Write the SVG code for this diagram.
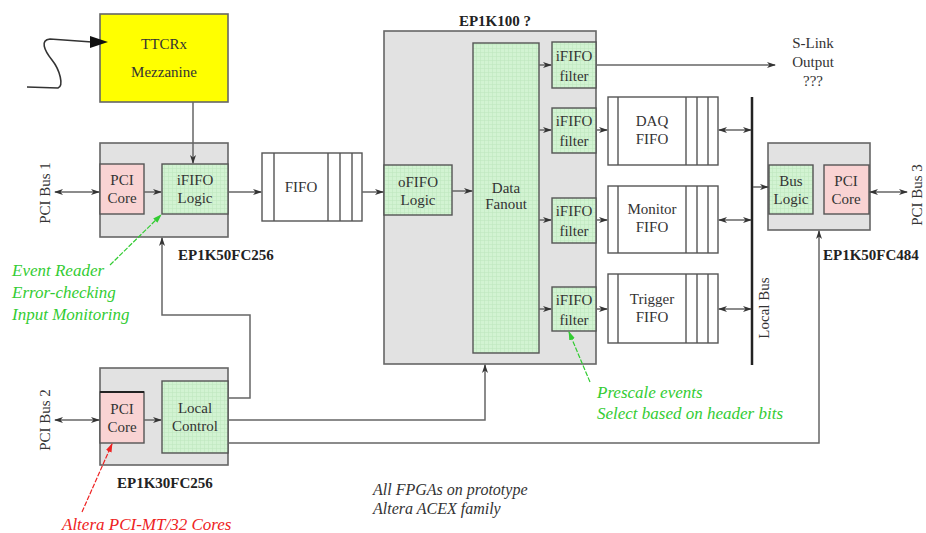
<svg xmlns="http://www.w3.org/2000/svg" width="926" height="533" viewBox="0 0 926 533">
<style>
text{font-family:"Liberation Serif","DejaVu Serif","Times New Roman",serif;fill:#333}
.lbl{font-size:15px;text-anchor:middle}
.bold{font-size:15px;font-weight:bold;fill:#222}
.note{font-size:17px;font-style:italic}
.small{font-size:16px}
.chip{fill:#e2e2e2;stroke:#666;stroke-width:1.6}
.green{fill:url(#grid);stroke:#555;stroke-width:1.4}
.pink{fill:#f9d3d3;stroke:#555;stroke-width:1.4}
.fifo{fill:#fff;stroke:#555;stroke-width:1.4}
.ln{fill:none;stroke:#666;stroke-width:1.5}
.arr{marker-end:url(#ah)}
.dbl{marker-start:url(#ahs);marker-end:url(#ah)}
</style>
<defs>
<pattern id="grid" width="4" height="4" patternUnits="userSpaceOnUse">
<rect width="4" height="4" fill="#d2f3d2"/>
<path d="M0,0.5H4M0.5,0V4" stroke="#bfe8bf" stroke-width="0.6"/>
</pattern>
<marker id="ah" markerWidth="9" markerHeight="7" refX="8" refY="3.5" orient="auto" markerUnits="userSpaceOnUse">
<path d="M0,0.5 L9,3.5 L0,6.5 L2.5,3.5 z" fill="#333"/>
</marker>
<marker id="ahs" markerWidth="9" markerHeight="7" refX="1" refY="3.5" orient="auto" markerUnits="userSpaceOnUse">
<path d="M9,0.5 L0,3.5 L9,6.5 L6.5,3.5 z" fill="#333"/>
</marker>
<marker id="ahg" markerWidth="9" markerHeight="7" refX="8" refY="3.5" orient="auto" markerUnits="userSpaceOnUse">
<path d="M0,0.5 L9,3.5 L0,6.5 z" fill="#33cc33"/>
</marker>
<marker id="ahr" markerWidth="9" markerHeight="7" refX="8" refY="3.5" orient="auto" markerUnits="userSpaceOnUse">
<path d="M0,0.5 L9,3.5 L0,6.5 z" fill="#ee2222"/>
</marker>
</defs>
<rect width="926" height="533" fill="#fff"/>

<g id="ttcrx">
<rect x="100" y="14" width="128" height="88" fill="#ffff00" stroke="#666" stroke-width="1.6"/>
<text class="lbl" x="164" y="49">TTCRx</text>
<text class="lbl" x="164" y="77">Mezzanine</text>
</g>

<g id="chip1">
<rect class="chip" x="100" y="143" width="128" height="94"/>
<rect class="pink" x="100" y="164" width="44" height="50"/>
<text class="lbl" x="122" y="185">PCI</text>
<text class="lbl" x="122" y="203">Core</text>
<rect class="green" x="162" y="164" width="66" height="50"/>
<text class="lbl" x="195" y="185">iFIFO</text>
<text class="lbl" x="195" y="203">Logic</text>
<text class="bold" x="178" y="260">EP1K50FC256</text>
</g>

<g id="pcibus1"><text class="lbl" transform="translate(50,193) rotate(-90)">PCI Bus 1</text></g>

<g id="fifo1">
<rect class="fifo" x="262" y="153" width="100" height="68"/>
<path d="M274,153V221M328,153V221M340,153V221M352,153V221" stroke="#555" stroke-width="1.4"/>
<text class="lbl" x="301" y="192">FIFO</text>
</g>

<g id="ep1k100">
<rect class="chip" x="384" y="31" width="212" height="333"/>
<text class="bold" x="495" y="26" text-anchor="middle">EP1K100 ?</text>
<rect class="green" x="384" y="165" width="68" height="50"/>
<text class="lbl" x="418" y="187">oFIFO</text>
<text class="lbl" x="418" y="205">Logic</text>
<rect class="green" x="473" y="43" width="66" height="310"/>
<text class="lbl" x="506" y="193">Data</text>
<text class="lbl" x="506" y="209">Fanout</text>
</g>

<g id="filter1"><rect class="green" x="552" y="42" width="44" height="46"/><text class="lbl" x="574" y="61">iFIFO</text><text class="lbl" x="574" y="81">filter</text></g>
<g id="filter2"><rect class="green" x="552" y="108" width="44" height="45"/><text class="lbl" x="574" y="126">iFIFO</text><text class="lbl" x="574" y="146">filter</text></g>
<g id="filter3"><rect class="green" x="552" y="198" width="44" height="45"/><text class="lbl" x="574" y="216">iFIFO</text><text class="lbl" x="574" y="236">filter</text></g>
<g id="filter4"><rect class="green" x="552" y="287" width="44" height="44"/><text class="lbl" x="574" y="305">iFIFO</text><text class="lbl" x="574" y="325">filter</text></g>

<g id="slink">
<text class="lbl" x="813" y="48">S-Link</text>
<text class="lbl" x="813" y="67">Output</text>
<text class="lbl" x="813" y="86">???</text>
</g>

<g id="daqfifo">
<rect class="fifo" x="608" y="97" width="110" height="68"/>
<path d="M618,97V165M686,97V165M697,97V165M708,97V165" stroke="#555" stroke-width="1.4"/>
<text class="lbl" x="652" y="126">DAQ</text>
<text class="lbl" x="652" y="144">FIFO</text>
</g>
<g id="monitorfifo">
<rect class="fifo" x="608" y="186" width="110" height="67"/>
<path d="M618,186V253M686,186V253M697,186V253M708,186V253" stroke="#555" stroke-width="1.4"/>
<text class="lbl" x="652" y="214">Monitor</text>
<text class="lbl" x="652" y="232">FIFO</text>
</g>
<g id="triggerfifo">
<rect class="fifo" x="608" y="274" width="110" height="69"/>
<path d="M618,274V343M686,274V343M697,274V343M708,274V343" stroke="#555" stroke-width="1.4"/>
<text class="lbl" x="652" y="304">Trigger</text>
<text class="lbl" x="652" y="322">FIFO</text>
</g>

<g id="localbus">
<line x1="752" y1="97" x2="752" y2="365" stroke="#222" stroke-width="2.5"/>
<text class="lbl" transform="translate(769,308) rotate(-90)">Local Bus</text>
</g>

<g id="chip3">
<rect class="chip" x="768" y="143" width="102" height="87"/>
<rect class="green" x="769" y="165" width="44" height="49"/>
<text class="lbl" x="791" y="186">Bus</text>
<text class="lbl" x="791" y="204">Logic</text>
<rect class="pink" x="824" y="165" width="45" height="49"/>
<text class="lbl" x="846" y="186">PCI</text>
<text class="lbl" x="846" y="204">Core</text>
<text class="bold" x="823" y="260">EP1K50FC484</text>
</g>
<g id="pcibus3"><text class="lbl" transform="translate(922,195) rotate(-90)">PCI Bus 3</text></g>

<g id="chip2">
<rect class="chip" x="100" y="368" width="128" height="97"/>
<rect class="pink" x="100" y="392" width="44" height="51"/>
<line x1="100" y1="392" x2="144" y2="392" stroke="#222" stroke-width="2"/>
<text class="lbl" x="122" y="414">PCI</text>
<text class="lbl" x="122" y="432">Core</text>
<rect class="green" x="162" y="381" width="66" height="72"/>
<text class="lbl" x="195" y="413">Local</text>
<text class="lbl" x="195" y="431">Control</text>
<text class="bold" x="117" y="488">EP1K30FC256</text>
</g>
<g id="pcibus2"><text class="lbl" transform="translate(50,420) rotate(-90)">PCI Bus 2</text></g>

<g id="notes">
<text class="note" x="12" y="276" style="fill:#33cc33">Event Reader</text>
<text class="note" x="12" y="298" style="fill:#33cc33">Error-checking</text>
<text class="note" x="12" y="320" style="fill:#33cc33">Input Monitoring</text>
<text class="note" x="62" y="530" style="fill:#ee2222">Altera PCI-MT/32 Cores</text>
<text class="note" x="597" y="398" style="fill:#33cc33">Prescale events</text>
<text class="note" x="597" y="419" style="fill:#33cc33">Select based on header bits</text>
<text class="note small" x="373" y="495" style="fill:#333">All FPGAs on prototype</text>
<text class="note small" x="373" y="514" style="fill:#333">Altera ACEX family</text>
</g>

<g id="connectors">
<path d="M27,87 L58,88 C64,86 60,70 52,60 C44,50 40,40 50,39 L92,42" fill="none" stroke="#333" stroke-width="1.6"/>
<path d="M90,36 L108,42 L90,48 z" fill="#111"/>
<path class="ln arr" d="M193,102V163"/>
<path class="ln dbl" d="M55,192H99"/>
<path class="ln arr" d="M144,192H161"/>
<path class="ln arr" d="M228,192H261"/>
<path class="ln arr" d="M362,192H383"/>
<path class="ln arr" d="M452,191H472"/>
<path class="ln arr" d="M539,65H551"/>
<path class="ln arr" d="M539,130H551"/>
<path class="ln arr" d="M539,220H551"/>
<path class="ln arr" d="M539,309H551"/>
<path class="ln arr" d="M596,65H775"/>
<path class="ln arr" d="M596,130H607"/>
<path class="ln arr" d="M596,220H607"/>
<path class="ln arr" d="M596,309H607"/>
<path class="ln dbl" d="M719,130H751"/>
<path class="ln dbl" d="M719,220H751"/>
<path class="ln dbl" d="M719,309H751"/>
<path class="ln arr" d="M753,187H768"/>
<path class="ln dbl" d="M870,192H907"/>
<path class="ln dbl" d="M55,420H99"/>
<path class="ln arr" d="M144,420H161"/>
<path class="ln arr" d="M228,398H250V315H162V238"/>
<path class="ln arr" d="M228,420H485V365"/>
<path class="ln arr" d="M228,443H819V231"/>
<path d="M110,265L161,215" fill="none" stroke="#33cc33" stroke-width="1.2" stroke-dasharray="5,1.5" marker-end="url(#ahg)"/>
<path d="M82,512L112,444" fill="none" stroke="#ee2222" stroke-width="1.2" stroke-dasharray="5,1.5" marker-end="url(#ahr)"/>
<path d="M590,382L569,332" fill="none" stroke="#33cc33" stroke-width="1.2" stroke-dasharray="5,1.5" marker-end="url(#ahg)"/>
</g>
</svg>
